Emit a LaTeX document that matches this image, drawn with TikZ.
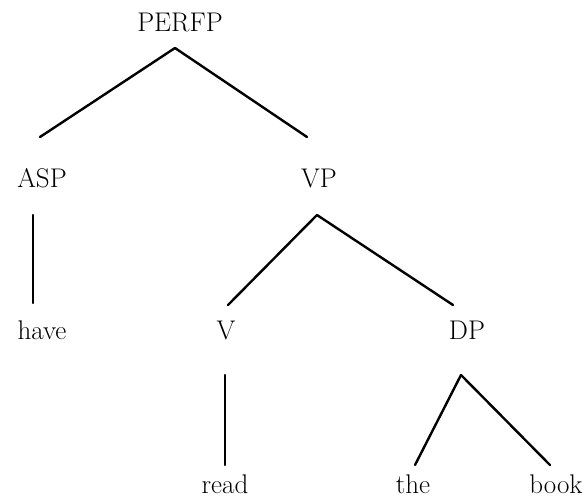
\documentclass[tikz,border=0pt]{standalone}
\usepackage{tikz}

\newcommand{\treenode}[3]{\node[word] (#1) at (#2) {#3};}
\newcommand{\branch}[2]{\draw[edge] (#1) -- (#2);}

\begin{document}
\begin{tikzpicture}[x=1pt,y=-1pt,
    word/.style={anchor=base,inner sep=0pt,font=\fontsize{27}{32}\selectfont},
    edge/.style={line width=2.4pt,line cap=round}]

  \useasboundingbox (0,0) rectangle (587,497);

  \treenode{perfp}{180,32}{PERFP}
  \treenode{asp}{42,188}{ASP}
  \treenode{vp}{319,188}{VP}
  \treenode{have}{42,340}{have}
  \treenode{v}{226,340}{V}
  \treenode{dp}{467,340}{DP}
  \treenode{read}{225,493}{read}
  \treenode{the}{413,493}{the}
  \treenode{book}{556,493}{book}

  \branch{[xshift=-5pt,yshift=-16pt]perfp.base}{[xshift=-2pt,yshift=51pt]asp.base}
  \branch{[xshift=-5pt,yshift=-16pt]perfp.base}{[xshift=-12pt,yshift=51pt]vp.base}
  \branch{[xshift=-9pt,yshift=-27pt]asp.base}{[xshift=-9pt,yshift=37pt]have.base}
  \branch{[xshift=-2pt,yshift=-27pt]vp.base}{[xshift=2pt,yshift=35pt]v.base}
  \branch{[xshift=-2pt,yshift=-27pt]vp.base}{[xshift=-14pt,yshift=35pt]dp.base}
  \branch{[xshift=-1pt,yshift=-35pt]v.base}{[yshift=28pt]read.base}
  \branch{[xshift=-6pt,yshift=-35pt]dp.base}{[xshift=2pt,yshift=28pt]the.base}
  \branch{[xshift=-6pt,yshift=-35pt]dp.base}{[xshift=-6pt,yshift=28pt]book.base}

\end{tikzpicture}
\end{document}
